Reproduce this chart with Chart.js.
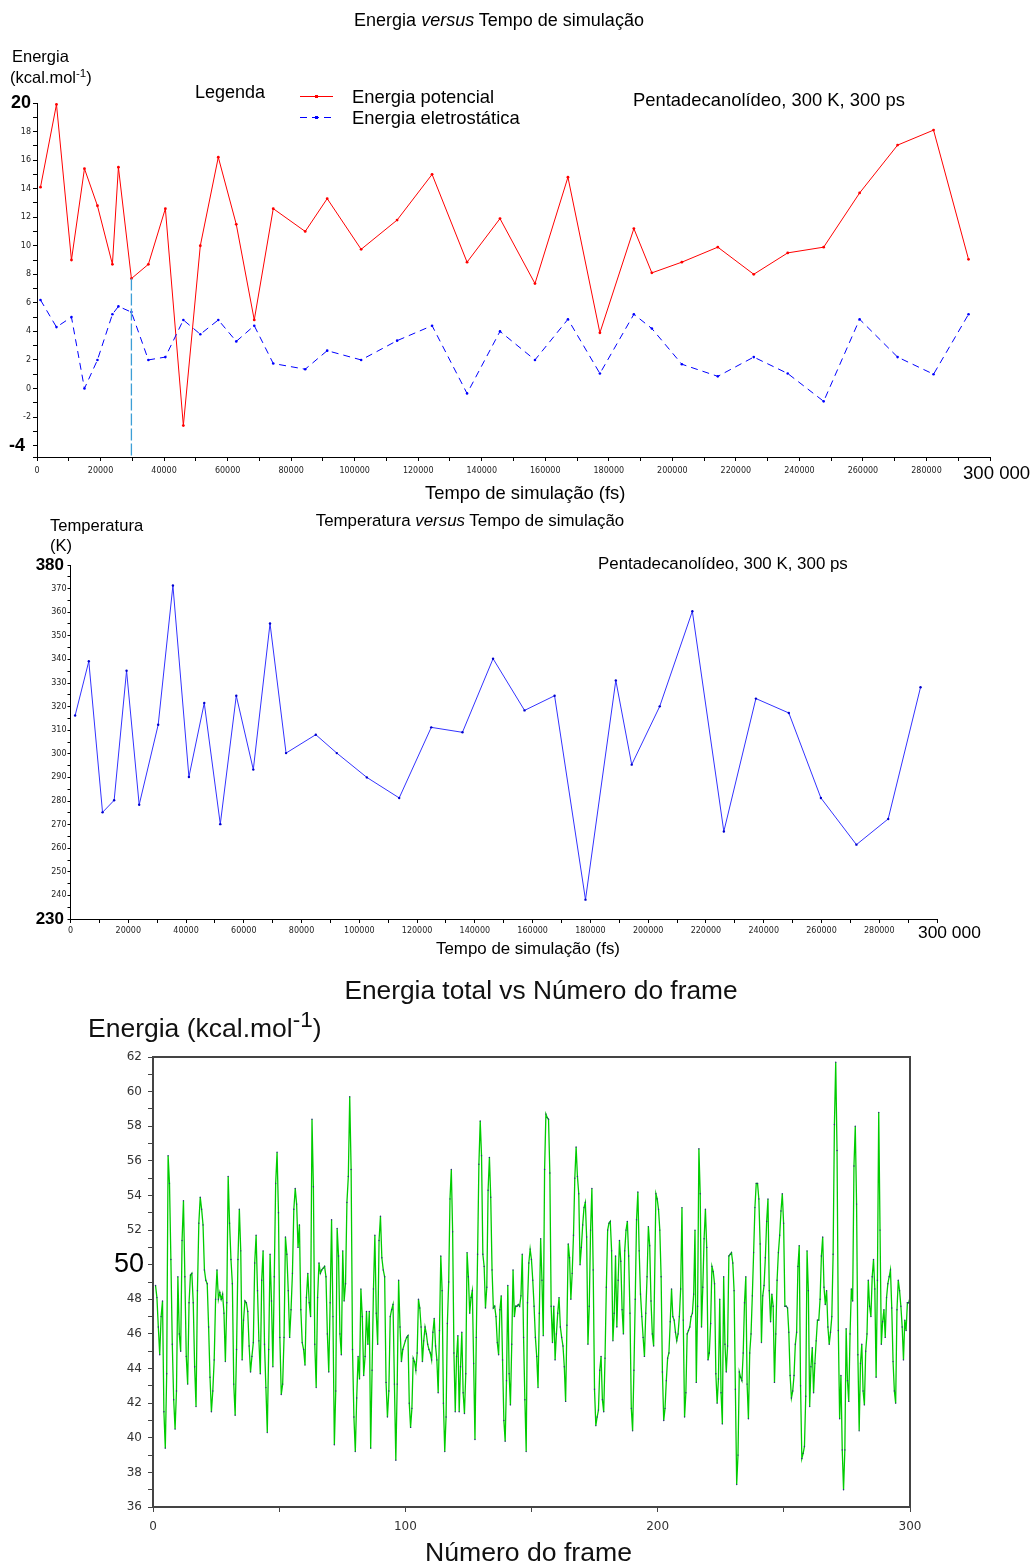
<!DOCTYPE html>
<html lang="pt">
<head>
<meta charset="utf-8">
<title>Energia e temperatura versus tempo de simulação</title>
<script src="https://cdn.jsdelivr.net/npm/chart.js@4.4.1/dist/chart.umd.min.js"></script>
<style>
  html, body { margin: 0; padding: 0; background: #fff; }
  body { position: relative; width: 1033px; height: 1566px; overflow: hidden;
         font-family: "Liberation Sans", Arial, sans-serif; color: #000; }
  canvas { position: absolute; left: 0; }
  .txt { position: absolute; white-space: nowrap; line-height: 1; }
  .txt sup { font-size: 0.7em; vertical-align: 0.55em; line-height: 0; }
  .txt sup.grande { font-size: 0.85em; vertical-align: 0.45em; }
</style>
</head>
<body>
<canvas id="grafico-energia" width="1033" height="505" style="top:0"></canvas>
<canvas id="grafico-temperatura" width="1033" height="460" style="top:505px"></canvas>
<canvas id="grafico-total" width="1033" height="601" style="top:965px"></canvas>

<!-- grafico 1 -->
<div class="txt" style="left:249px;width:500px;text-align:center;top:11px;font-size:18px">Energia <i>versus</i> Tempo de simulação</div>
<div class="txt" style="left:12px;top:48px;font-size:16.5px">Energia</div>
<div class="txt" style="left:10px;top:69px;font-size:16.5px">(kcal.mol<sup>-1</sup>)</div>
<div class="txt" style="left:195px;top:83px;font-size:18px">Legenda</div>
<svg style="position:absolute;left:298px;top:90px" width="40" height="32">
  <line x1="2" y1="6.5" x2="35" y2="6.5" stroke="#ff0000" stroke-width="1"/>
  <rect x="17" y="5" width="3" height="3" fill="#ff0000"/>
  <line x1="2" y1="27.5" x2="35" y2="27.5" stroke="#0000ff" stroke-width="1" stroke-dasharray="7,5"/>
  <rect x="17" y="26" width="3" height="3" fill="#0000ff"/>
</svg>
<div class="txt" style="left:352px;top:88px;font-size:18.4px">Energia potencial</div>
<div class="txt" style="left:352px;top:109px;font-size:18.4px">Energia eletrostática</div>
<div class="txt" style="left:633px;top:91px;font-size:18.4px">Pentadecanolídeo, 300 K, 300 ps</div>
<div class="txt" style="left:425px;top:484px;font-size:18.4px">Tempo de simulação (fs)</div>
<div class="txt" style="left:963px;top:464px;font-size:18.6px">300 000</div>

<!-- grafico 2 -->
<div class="txt" style="left:220px;width:500px;text-align:center;top:513px;font-size:16.9px">Temperatura <i>versus</i> Tempo de simulação</div>
<div class="txt" style="left:50px;top:518px;font-size:16.6px">Temperatura</div>
<div class="txt" style="left:50px;top:538px;font-size:16.6px">(K)</div>
<div class="txt" style="left:598px;top:556px;font-size:16.9px">Pentadecanolídeo, 300 K, 300 ps</div>
<div class="txt" style="left:918px;top:924px;font-size:17.4px">300 000</div>
<div class="txt" style="left:436px;top:941px;font-size:16.9px">Tempo de simulação (fs)</div>

<!-- grafico 3 -->
<div class="txt" style="left:241px;width:600px;text-align:center;top:977px;font-size:26.3px;color:#111">Energia total vs Número do frame</div>
<div class="txt" style="left:88px;top:1015px;font-size:26.5px;color:#111">Energia (kcal.mol<sup class="grande">-1</sup>)</div>
<div class="txt" style="left:425px;top:1539px;font-size:26.6px;color:#111">Número do frame</div>

<script>
// Energia versus tempo (fs)
const tempoEnergia = [1100, 6130, 10850, 14940, 19030, 23740, 25630, 29720, 35060, 40410,
    46070, 51410, 57070, 62730, 68390, 74370, 84430, 91350, 102040, 113360,
    124370, 135380, 145750, 156760, 167140, 177200, 187890, 193550, 202990, 214310,
    225630, 236320, 247640, 258960, 270910, 282230, 293240];
const energiaPotencial = [14.1, 19.9, 9.0, 15.4, 12.8, 8.7, 15.5, 7.7, 8.7, 12.6,
    -2.6, 10.0, 16.2, 11.5, 4.8, 12.6, 11.0, 13.3, 9.75, 11.8,
    15.0, 8.85, 11.9, 7.35, 14.8, 3.9, 11.2, 8.1, 8.85, 9.9,
    8.0, 9.5, 9.9, 13.7, 17.05, 18.1, 9.05];
const energiaEletrostatica = [6.2, 4.3, 5.0, 0.0, 2.0, 5.2, 5.75, 5.35, 2.0, 2.2,
    4.8, 3.8, 4.8, 3.3, 4.4, 1.75, 1.35, 2.65, 2.0, 3.35,
    4.4, -0.35, 4.0, 2.0, 4.85, 1.05, 5.2, 4.2, 1.7, 0.85,
    2.2, 1.05, -0.9, 4.85, 2.2, 1.0, 5.2];
const indiceCursor = 7;

// Temperatura versus tempo (fs)
const tempoTemperatura = [1600, 6340, 11090, 15110, 19410, 23780, 30360, 35460, 41000, 46310,
    51860, 57400, 63290, 69080, 74630, 84920, 92200, 102600, 113800, 124900,
    135700, 146300, 157200, 167600, 178300, 188800, 194300, 204000, 215300, 226200,
    237300, 248700, 259800, 272100, 283100, 294300];
const temperatura = [316.2, 339.2, 275.2, 280.3, 335.2, 278.4, 312.3, 371.3, 290.2, 321.5,
    270.2, 324.6, 293.3, 355.2, 300.3, 308.1, 300.3, 290.0, 281.3, 311.2,
    309.1, 340.3, 318.4, 324.6, 238.2, 331.1, 295.4, 320.1, 360.4, 267.1,
    323.4, 317.3, 281.3, 261.5, 272.4, 328.2];

// Energia total por frame, em tres trechos
const trechoInicio = [1, 100, 199.3];
const trechoFim = [99, 198.4, 300];
const energiaTotalA = [48.8, 48.1, 46.4, 44.8, 47.0, 47.9, 41.5, 39.4, 43.7, 56.3, 54.7, 50.3, 45.4, 42.2, 40.5,
    42.7, 49.3, 46.0, 45.0, 51.4, 53.7, 49.3, 44.7, 43.1, 47.8, 49.4, 49.5, 47.8, 44.1, 41.8,
    48.5, 52.4, 53.9, 53.2, 52.3, 49.7, 49.1, 48.9, 46.4, 43.5, 41.5, 42.7, 44.5, 48.0, 49.7,
    48.0, 48.4, 48.0, 48.3, 47.2, 44.4, 47.8, 55.1, 52.4, 50.3, 48.9, 43.1, 41.3, 45.1, 50.3,
    53.2, 50.8, 44.5, 46.8, 47.9, 47.8, 47.3, 45.3, 43.8, 44.7, 45.5, 50.1, 51.7, 48.5, 45.6,
    43.7, 49.1, 50.8, 45.4, 42.9, 40.3, 45.1, 50.6, 47.9, 44.1, 49.3, 54.7, 56.5, 53.0, 45.8,
    42.5, 43.1, 45.8, 51.6, 50.6, 48.5, 45.8, 47.4, 49.5, 53.2, 54.4, 53.5, 51.0, 52.3, 47.4,
    45.5, 45.1, 44.2, 48.1, 49.5, 47.8, 47.0, 58.4, 54.5, 45.4, 42.9, 48.1, 50.1, 49.5, 49.7,
    49.8, 49.9, 49.3, 46.0, 43.8, 47.8, 52.6, 47.0, 39.6, 42.7, 52.1, 50.5, 46.0, 44.8, 50.8,
    47.9, 48.9, 53.6, 55.1, 59.7, 55.5, 45.1, 41.2, 39.2, 42.3, 44.7, 43.4, 48.6, 47.0, 43.6,
    44.7, 47.3, 45.4, 47.3, 39.4, 43.9, 48.6, 51.7, 47.2, 45.4, 51.4, 52.8, 50.4, 49.7, 49.3,
    43.2, 41.2, 42.7, 47.0, 47.4, 47.7, 43.1, 38.7, 43.1, 49.1, 46.4, 44.4, 45.1];
const energiaTotalB = [45.6, 45.8, 45.9, 42.0, 40.6, 41.7, 44.6, 44.4, 43.9, 44.9, 48.0, 47.5, 46.4, 44.4, 45.6,
    46.4, 46.0, 45.4, 45.1, 44.9, 44.5, 46.1, 46.9, 45.3, 44.5, 42.6, 46.2, 50.5, 48.5, 42.0,
    39.2, 41.2, 46.6, 49.0, 53.8, 55.5, 51.9, 44.9, 41.5, 44.7, 45.9, 41.5, 44.1, 46.1, 42.6,
    41.4, 43.7, 50.7, 49.3, 47.2, 48.1, 48.5, 44.3, 39.9, 45.8, 50.6, 55.8, 58.3, 56.3, 50.6,
    49.9, 47.5, 48.7, 54.3, 56.2, 53.9, 49.7, 47.5, 47.6, 47.0, 45.5, 44.8, 47.4, 48.2, 44.5,
    41.0, 39.8, 43.3, 48.8, 43.7, 41.9, 45.4, 49.7, 47.0, 47.6, 47.6, 47.7, 47.6, 48.2, 50.6,
    45.8, 42.2, 39.2, 47.8, 50.1, 50.9, 50.3, 49.1, 47.6, 45.8, 44.7, 42.9, 47.2, 51.5, 49.1,
    45.9, 55.5, 58.7, 58.5, 58.4, 55.3, 47.6, 45.5, 47.6, 44.5, 46.0, 47.2, 48.1, 46.4, 45.8,
    45.3, 44.1, 42.1, 46.5, 51.2, 50.4, 48.0, 49.5, 51.7, 55.0, 56.8, 55.1, 54.1, 50.0, 51.0,
    52.3, 53.3, 53.6, 51.6, 45.4, 47.6, 52.0, 54.4, 49.7, 42.8, 40.7, 41.2, 41.6, 43.9, 44.7,
    42.2, 41.5, 44.6, 48.7, 52.0, 52.4, 52.5, 50.8, 45.6, 47.2, 50.5, 46.4, 49.1, 51.4, 50.2,
    47.4, 46.0, 50.8, 52.0, 52.5, 50.5, 47.2, 41.7, 40.4, 43.9, 48.0, 52.6, 54.2, 50.8, 48.3,
    47.0, 45.8, 44.7, 47.2, 49.3, 52.2, 51.1, 47.9, 46.0, 45.3];
const energiaTotalC = [54.1, 53.8, 53.2, 52.0, 49.3, 43.8, 41.0, 41.7, 43.3, 44.6, 44.9, 46.7, 48.6, 47.0, 46.8,
    46.1, 45.6, 46.0, 47.0, 48.6, 53.3, 46.8, 41.2, 42.6, 46.0, 46.2, 46.4, 47.0, 47.2, 48.3,
    52.0, 43.2, 47.6, 56.7, 54.1, 46.4, 48.7, 51.5, 53.2, 51.0, 44.5, 44.9, 46.6, 49.9, 49.6,
    48.9, 43.7, 42.0, 43.4, 48.0, 42.6, 40.8, 49.3, 45.4, 43.8, 45.3, 50.5, 50.6, 50.7, 50.1,
    48.5, 42.8, 37.3, 39.0, 43.8, 43.5, 43.3, 44.9, 47.8, 49.3, 43.1, 41.1, 44.9, 46.0, 48.2,
    50.7, 53.3, 54.7, 54.7, 53.8, 51.2, 45.5, 48.2, 48.8, 50.4, 52.5, 53.8, 48.5, 46.7, 48.3,
    47.6, 43.2, 46.0, 49.1, 50.7, 51.7, 53.1, 54.1, 52.4, 47.6, 47.6, 47.5, 46.1, 43.6, 42.3,
    42.7, 43.6, 45.4, 46.1, 49.9, 51.1, 43.0, 38.8, 39.1, 39.5, 42.4, 50.8, 48.5, 41.8, 44.1,
    45.2, 42.6, 44.3, 45.6, 46.8, 46.8, 48.0, 50.5, 51.6, 48.7, 47.7, 48.5, 46.4, 45.4, 46.1,
    47.0, 50.6, 58.1, 61.7, 56.6, 46.2, 41.1, 43.6, 39.3, 37.0, 39.3, 46.3, 43.3, 42.1, 46.0,
    48.6, 47.9, 55.7, 58.0, 53.5, 44.8, 40.4, 44.3, 45.4, 42.7, 41.9, 45.0, 46.0, 49.1, 47.6,
    47.0, 49.3, 50.3, 48.6, 43.5, 49.1, 58.8, 52.0, 45.4, 46.7, 47.4, 45.8, 48.1, 48.9, 49.3,
    49.7, 47.5, 44.4, 42.7, 42.0, 47.4, 49.1, 48.5, 47.6, 46.4, 44.5, 46.8, 46.2, 47.8, 47.8, 48.1];

const FONTE_TICKS = { family: 'DejaVu Sans', size: 8 };

// desenha os rotulos grandes (20, -4, 380, 230, 50) sobre o eixo y
const rotulosGrandes = {
    id: 'rotulosGrandes',
    afterDraw(chart, args, opts) {
        const ctx = chart.ctx;
        const y = chart.scales.y;
        ctx.save();
        ctx.fillStyle = '#000';
        ctx.textAlign = 'right';
        ctx.textBaseline = 'middle';
        ctx.font = opts.font;
        opts.rotulos.forEach(r => ctx.fillText(r.texto, r.direita, y.getPixelForValue(r.valor)));
        ctx.restore();
    }
};

// contorno completo da area do grafico de energia total
const moldura = {
    id: 'moldura',
    afterDatasetsDraw(chart, args, opts) {
        if (!opts.cor) return;
        const a = chart.chartArea;
        const ctx = chart.ctx;
        ctx.save();
        ctx.strokeStyle = opts.cor;
        ctx.lineWidth = 2;
        ctx.strokeRect(a.left, a.top, a.right - a.left, a.bottom - a.top);
        ctx.restore();
    }
};

function pares(xs, ys) {
    return ys.map((v, i) => ({ x: xs[i], y: v }));
}

function trecho(valores, inicio, fim) {
    const passo = (fim - inicio) / (valores.length - 1);
    return valores.map((v, i) => ({ x: inicio + i * passo, y: v }));
}

function eixoX(max, passo, rotulo, cfg) {
    return {
        type: 'linear', min: 0, max: max,
        afterFit: s => { s.height = cfg.altura; },
        border: { color: cfg.corEixo, width: cfg.larguraEixo },
        grid: { drawOnChartArea: false, drawTicks: true, tickLength: cfg.tick, color: cfg.corEixo },
        ticks: {
            stepSize: passo, autoSkip: false, maxRotation: 0, padding: cfg.pad,
            color: cfg.corTexto, font: cfg.fonte,
            callback: v => rotulo(v)
        }
    };
}

function eixoY(min, max, passo, rotulo, cfg) {
    return {
        type: 'linear', min: min, max: max,
        afterFit: s => { s.width = cfg.largura; },
        border: { color: cfg.corEixo, width: cfg.larguraEixo },
        grid: { drawOnChartArea: false, drawTicks: true, tickLength: cfg.tick, color: cfg.corEixo },
        ticks: {
            stepSize: passo, autoSkip: false, padding: cfg.pad,
            color: cfg.corTexto, font: cfg.fonte,
            callback: v => rotulo(v)
        }
    };
}

function opcoesBase(padding, escalas, extras) {
    return {
        responsive: false,
        animation: false,
        devicePixelRatio: 1,
        layout: { padding: padding },
        elements: { line: { tension: 0 } },
        plugins: Object.assign({ legend: { display: false }, tooltip: { enabled: false } }, extras),
        scales: escalas
    };
}

function desenharEnergia() {
    const rotuloX = v => (v % 20000 === 0 && v < 300000) ? String(v) : '';
    const rotuloY = v => (Number.isInteger(v) && v % 2 === 0 && v >= -2 && v <= 18) ? String(v) : '';
    const cfgX = { altura: 48, tick: 4, pad: 5, corEixo: '#000', larguraEixo: 1, corTexto: '#222', fonte: FONTE_TICKS };
    const cfgY = { largura: 37, tick: 4, pad: 2, corEixo: '#000', larguraEixo: 1, corTexto: '#222', fonte: FONTE_TICKS };
    new Chart(document.getElementById('grafico-energia'), {
        type: 'line',
        data: {
            datasets: [
                {
                    data: [
                        { x: tempoEnergia[indiceCursor], y: energiaPotencial[indiceCursor] },
                        { x: tempoEnergia[indiceCursor], y: -4.8 }
                    ],
                    borderColor: '#3d9fd6', borderWidth: 1.3, borderDash: [12, 3], pointRadius: 0
                },
                {
                    data: pares(tempoEnergia, energiaEletrostatica),
                    borderColor: '#0000ff', borderWidth: 1, borderDash: [7, 5],
                    pointRadius: 1.3, pointBorderWidth: 0, pointBackgroundColor: '#0000ff'
                },
                {
                    data: pares(tempoEnergia, energiaPotencial),
                    borderColor: '#ff0000', borderWidth: 1,
                    pointRadius: 1.4, pointBorderWidth: 0, pointBackgroundColor: '#ff0000'
                }
            ]
        },
        options: opcoesBase({ top: 103, right: 43, left: 0, bottom: 0 }, {
            x: eixoX(300000, 10000, rotuloX, cfgX),
            y: eixoY(-4.8, 20, 1, rotuloY, cfgY)
        }, {
            rotulosGrandes: {
                font: 'bold 18px "Liberation Sans", Arial, sans-serif',
                rotulos: [{ texto: '20', valor: 20, direita: 31 }, { texto: '-4', valor: -4, direita: 25 }]
            }
        }),
        plugins: [rotulosGrandes]
    });
}

function desenharTemperatura() {
    const rotuloX = v => (v % 20000 === 0 && v < 300000) ? String(v) : '';
    const rotuloY = v => (v % 10 === 0 && v > 230 && v < 380) ? String(v) : '';
    const cfgX = { altura: 46, tick: 4, pad: 3, corEixo: '#000', larguraEixo: 1, corTexto: '#222', fonte: FONTE_TICKS };
    const cfgY = { largura: 70.5, tick: 3, pad: 1, corEixo: '#000', larguraEixo: 1, corTexto: '#222', fonte: FONTE_TICKS };
    new Chart(document.getElementById('grafico-temperatura'), {
        type: 'line',
        data: {
            datasets: [{
                data: pares(tempoTemperatura, temperatura),
                borderColor: '#3333ff', borderWidth: 1,
                pointRadius: 1.2, pointBorderWidth: 0, pointBackgroundColor: '#0000cc'
            }]
        },
        options: opcoesBase({ top: 60, right: 96, left: 0, bottom: 0 }, {
            x: eixoX(300000, 10000, rotuloX, cfgX),
            y: eixoY(230, 380, 5, rotuloY, cfgY)
        }, {
            rotulosGrandes: {
                font: 'bold 17px "Liberation Sans", Arial, sans-serif',
                rotulos: [{ texto: '380', valor: 380, direita: 64 }, { texto: '230', valor: 230, direita: 64 }]
            }
        }),
        plugins: [rotulosGrandes]
    });
}

function desenharEnergiaTotal() {
    const rotuloX = v => (v % 100 === 0) ? String(v) : '';
    const rotuloY = v => (v % 2 === 0 && v !== 50) ? String(v) : '';
    const fonte = { family: 'DejaVu Sans', size: 12 };
    const cfgX = { altura: 59, tick: 5, pad: 8, corEixo: '#444', larguraEixo: 2, corTexto: '#333', fonte: fonte };
    const cfgY = { largura: 153, tick: 5, pad: 6, corEixo: '#444', larguraEixo: 2, corTexto: '#333', fonte: fonte };
    const dados = trecho(energiaTotalA, trechoInicio[0], trechoFim[0])
        .concat(trecho(energiaTotalB, trechoInicio[1], trechoFim[1]))
        .concat(trecho(energiaTotalC, trechoInicio[2], trechoFim[2]));
    new Chart(document.getElementById('grafico-total'), {
        type: 'line',
        data: {
            datasets: [{
                data: dados,
                borderColor: '#00cc00', borderWidth: 1.3,
                pointRadius: 0.7, pointBorderWidth: 0, pointBackgroundColor: '#2b2b7a'
            }]
        },
        options: opcoesBase({ top: 92, right: 123, left: 0, bottom: 0 }, {
            x: eixoX(300, 50, rotuloX, cfgX),
            y: eixoY(36, 62, 1, rotuloY, cfgY)
        }, {
            moldura: { cor: '#444' },
            rotulosGrandes: {
                font: '27px "Liberation Sans", Arial, sans-serif',
                rotulos: [{ texto: '50', valor: 50, direita: 144 }]
            }
        }),
        plugins: [rotulosGrandes, moldura]
    });
}

function init() {
    desenharEnergia();
    desenharTemperatura();
    desenharEnergiaTotal();
}

document.addEventListener('DOMContentLoaded', init);
</script>
</body>
</html>
